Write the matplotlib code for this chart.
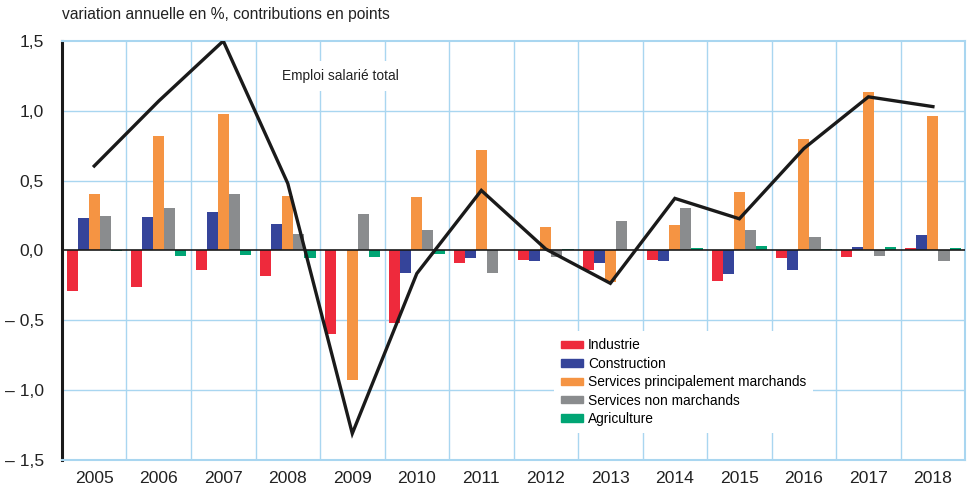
import numpy as np
import matplotlib.pyplot as plt
from matplotlib.patches import Patch
from matplotlib import font_manager

names = {f.name for f in font_manager.fontManager.ttflist}
if 'Liberation Sans Narrow' in names:
    fam = ['Liberation Sans Narrow', 'DejaVu Sans']
    k = 1.0
else:
    fam = ['Liberation Sans', 'DejaVu Sans']
    k = 0.9
plt.rcParams['font.family'] = fam

years = ['2005', '2006', '2007', '2008', '2009', '2010', '2011',
         '2012', '2013', '2014', '2015', '2016', '2017', '2018']

industrie = [-0.29, -0.26, -0.14, -0.18, -0.60, -0.52, -0.09,
             -0.065, -0.14, -0.07, -0.215, -0.055, -0.05, 0.017]
construction = [0.235, 0.24, 0.273, 0.187, 0.0, -0.16, -0.053,
                -0.072, -0.09, -0.072, -0.167, -0.139, 0.024, 0.108]
services_march = [0.407, 0.82, 0.978, 0.39, -0.926, 0.38, 0.716,
                  0.17, -0.227, 0.18, 0.416, 0.795, 1.134, 0.96]
services_non_march = [0.244, 0.306, 0.407, 0.12, 0.26, 0.15, -0.163,
                      -0.048, 0.213, 0.306, 0.148, 0.10, -0.043, -0.077]
agriculture = [-0.005, -0.04, -0.03, -0.055, -0.048, -0.024, 0.0,
               0.012, 0.0, 0.019, 0.031, 0.01, 0.022, 0.019]
emploi_total = [0.605, 1.07, 1.5, 0.48, -1.31, -0.165, 0.43,
                0.01, -0.235, 0.373, 0.227, 0.73, 1.10, 1.03]

series = [
    ('Industrie', industrie, '#ee2a3c'),
    ('Construction', construction, '#35449a'),
    ('Services principalement marchands', services_march, '#f59443'),
    ('Services non marchands', services_non_march, '#8a8c8e'),
    ('Agriculture', agriculture, '#00a574'),
]

grid_col = '#a9d6f0'

fig = plt.figure(figsize=(9.67, 4.93), dpi=100)
ax = fig.add_axes([0.0641, 0.0669, 0.934, 0.850])

x = np.arange(len(years)) + 0.5
w = 0.172
for i, (name, vals, col) in enumerate(series):
    ax.bar(x + (i - 2) * w, vals, width=w, color=col, zorder=3)

ax.plot(x, emploi_total, color='#1a1a1a', lw=2.4, zorder=5,
        solid_joinstyle='miter')

ax.axhline(0, color='#1a1a1a', lw=1.2, zorder=4)

ax.set_xlim(0, len(years))
ax.set_ylim(-1.5, 1.5)
ax.set_yticks([-1.5, -1.0, -0.5, 0.0, 0.5, 1.0, 1.5])
ax.set_yticklabels(['– 1,5', '– 1,0', '– 0,5', '0,0', '0,5', '1,0', '1,5'],
                   fontsize=14 * k, color='#222222')
ax.set_xticks(x)
ax.set_xticklabels(years, fontsize=14 * k, color='#222222')
ax.tick_params(axis='x', length=0, pad=8)
ax.tick_params(axis='y', length=0, pad=13)

for v in np.arange(1, len(years)):
    ax.axvline(v, color=grid_col, lw=1.0, zorder=1)
for v in [-1.0, -0.5, 0.5, 1.0]:
    ax.axhline(v, color=grid_col, lw=1.0, zorder=1)

for s in ['top', 'bottom', 'right']:
    ax.spines[s].set_color(grid_col)
    ax.spines[s].set_linewidth(1.5)
ax.spines['left'].set_color('#1a1a1a')
ax.spines['left'].set_linewidth(2.2)

ax.text(4.31, 1.25, 'Emploi salarié total', fontsize=11 * k, color='#222222',
        ha='center', va='center', zorder=2,
        bbox=dict(facecolor='white', edgecolor='none', pad=6))

handles = [Patch(color=c, label=n) for n, _, c in series]
leg = ax.legend(handles=handles, loc='lower left',
                bbox_to_anchor=(0.545, 0.065), frameon=True, fontsize=11 * k,
                handlelength=1.6, handleheight=0.45, handletextpad=0.35,
                labelspacing=0.32, borderpad=0.5, borderaxespad=0)
leg.get_frame().set_edgecolor('none')
leg.get_frame().set_facecolor('white')
leg.get_frame().set_alpha(1)
leg.set_zorder(2)

fig.text(0.0641, 0.955, 'variation annuelle en %, contributions en points',
         fontsize=12.5 * k, color='#222222', ha='left', va='bottom')

fig.savefig('out.png', dpi=100)
